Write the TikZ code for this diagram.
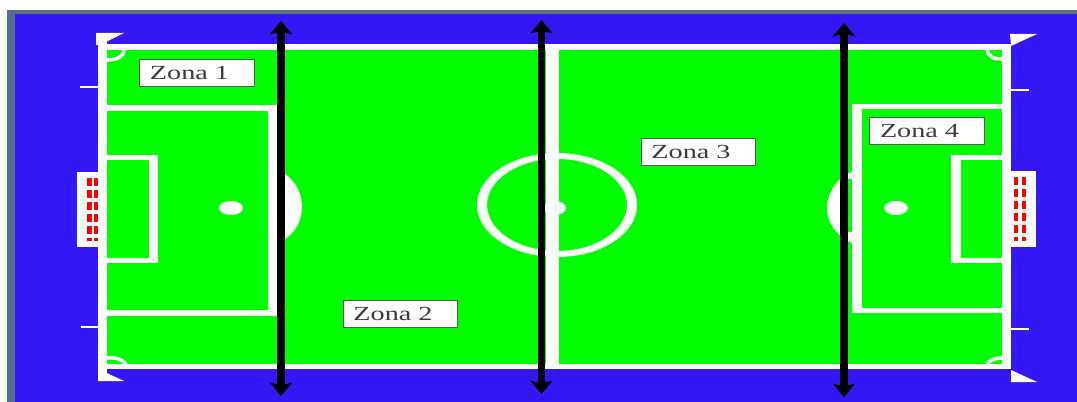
\documentclass[tikz,border=0pt]{standalone}
\usepackage{fontspec}
\setmainfont{Liberation Serif}
\usetikzlibrary{arrows.meta}
\definecolor{pitchblue}{RGB}{51,24,245}
\definecolor{pitchgreen}{RGB}{0,255,0}
\definecolor{framegrey}{RGB}{84,110,140}
\definecolor{labeltext}{RGB}{60,60,60}
\tikzset{
  x=0.75pt,y=-0.75pt,
  hline/.style={draw=white,line width=4.2pt},
  vline/.style={draw=white,line width=7pt},
  cornerarc/.style={draw=white,line width=2.6pt},
  tick/.style={draw=white,line width=2.2pt},
  net/.style={draw=red,line width=3.4pt,dash pattern=on 6pt off 3pt},
  zone/.style={draw=black!65,line width=0.9pt,fill=white,minimum width=86pt,minimum height=20.5pt,inner sep=0pt},
  divider/.style={draw=black,line width=5.3pt,{Stealth[length=10pt,width=16.5pt,inset=2pt]}-{Stealth[length=10pt,width=16.5pt,inset=2pt]}}
}
\newcommand{\zonatext}[1]{\hspace*{-11.2pt}\scalebox{1.41}[1]{\color{labeltext}\fontsize{15pt}{16pt}\selectfont #1}}
\begin{document}
\begin{tikzpicture}
\useasboundingbox (0,0) rectangle (1077,402);
\fill[white] (0,0) rectangle (1077,402);
\fill[framegrey] (7,10) rectangle (1077,402);
\fill[pitchblue] (15,14) rectangle (1077,402);
% pitch
\fill[pitchgreen] (103,47) rectangle (1006,367);
% corner arcs
\draw[cornerarc] (107,60) .. controls (118,60) and (124,56) .. (124,50);
\draw[cornerarc] (1002,59) .. controls (993,59) and (988,56) .. (987,50);
\draw[cornerarc] (107,358) .. controls (116,357) and (123,360) .. (126,364);
\draw[cornerarc] (1002,358) .. controls (995,358) and (990,360) .. (987,364);
% outer lines
\draw[hline] (98,47) -- (1011,47);
\draw[hline] (98,366.5) -- (1011,366.5);
\draw[vline] (102.5,33) -- (102.5,381);
\draw[vline] (1006.5,44) -- (1006.5,369);
% flags
\fill[white] (96,33) -- (124,33) -- (100,45) -- (96,45) -- cycle;
\fill[white] (1010,34) -- (1037,34) -- (1011,46) -- cycle;
\fill[white] (98,369) -- (124,381) -- (98,381) -- cycle;
\fill[white] (1011,370) -- (1037,382) -- (1011,382) -- cycle;
% ticks
\draw[tick] (80,87) -- (107,87);
\draw[tick] (81,327) -- (107,327);
\draw[tick] (1011,90) -- (1029,90);
\draw[tick] (1011,329) -- (1029,329);
% goals
\fill[white] (77,172) rectangle (100,247);
\fill[white] (1011,171) rectangle (1036,247);
\draw[net] (89.5,178) -- (89.5,241);
\draw[net] (96,178) -- (96,241);
\draw[net] (1016,177) -- (1016,241);
\draw[net] (1024,177) -- (1024,241);
% penalty arcs
\fill[white] (280,171) .. controls (294,178) and (302,192) .. (302,207) .. controls (302,222) and (294,235) .. (280,242) -- cycle;
\fill[white] (852,172) .. controls (836,178) and (827,194) .. (827,208) .. controls (827,222) and (836,236) .. (852,243) -- cycle;
\fill[pitchgreen] (846,179) rectangle (852,232);
% penalty boxes
\draw[hline] (107,108) -- (277,108);
\draw[hline] (107,313) -- (277,313);
\draw[vline] (272.5,105) -- (272.5,316);
\draw[hline] (107,157.5) -- (158,157.5);
\draw[hline] (107,260.5) -- (158,260.5);
\draw[vline] (153.5,155) -- (153.5,263);
\draw[hline] (1003,106.5) -- (852,106.5);
\draw[hline] (1003,310.5) -- (852,310.5);
\draw[vline] (857,104) -- (857,313);
\draw[hline] (1003,157.5) -- (951,157.5);
\draw[hline] (1003,260.5) -- (951,260.5);
\draw[vline] (956,155) -- (956,263);
% spots
\fill[white] (231,208) ellipse[x radius=12,y radius=7];
\fill[white] (896,208) ellipse[x radius=12,y radius=7];
% centre
\fill[white,even odd rule] (557,205) ellipse[x radius=80,y radius=52] (557,205) ellipse[x radius=70,y radius=46];
\draw[vline,line width=9.5pt] (552.5,50) -- (552.5,364);
\fill[white] (555,208) ellipse[x radius=11,y radius=7];
% dividers
\coordinate (d1t) at (281,21); \coordinate (d1b) at (281,396);
\coordinate (d2t) at (541.5,20); \coordinate (d2b) at (541.5,394);
\coordinate (d3t) at (844,23); \coordinate (d3b) at (844,397);
\draw[divider] (d1t) -- (d1b);
\draw[divider] (d2t) -- (d2b);
\draw[divider] (d3t) -- (d3b);
% labels
\node[zone] (z1) at (197,73) {\zonatext{Zona 1}};
\node[zone] (z2) at (400.5,314) {\zonatext{Zona 2}};
\node[zone] (z3) at (698.5,152) {\zonatext{Zona 3}};
\node[zone] (z4) at (927,131) {\zonatext{Zona 4}};
\end{tikzpicture}
\end{document}
